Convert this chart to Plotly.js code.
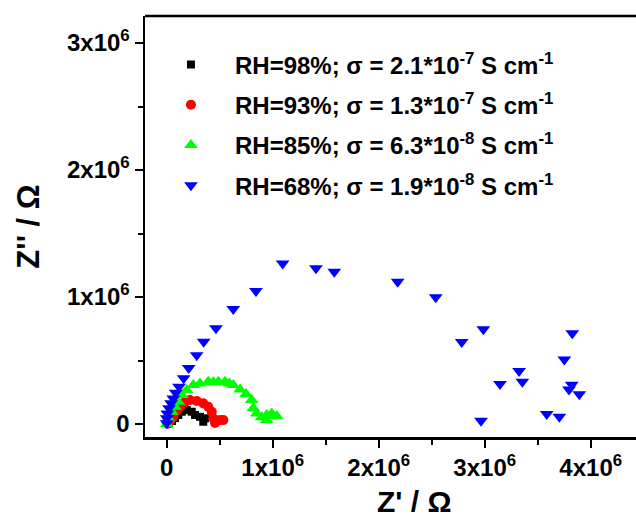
<!DOCTYPE html>
<html>
<head>
<meta charset="utf-8">
<script src="https://cdn.plot.ly/plotly-3.0.1.min.js"></script>
<style>html,body{margin:0;padding:0;background:#fff;overflow:hidden;}</style>
</head>
<body>
<div id="chart" style="width:636px;height:520px;"></div>
<script>
// Data (Z' in Ohm, Z'' in Ohm)
const rh98_x = [0.02e6, 0.05e6, 0.078e6, 0.109e6, 0.142e6, 0.189e6, 0.236e6, 0.267e6, 0.314e6, 0.361e6, 0.345e6];
const rh98_y = [0.005e6, 0.024e6, 0.047e6, 0.071e6, 0.097e6, 0.110e6, 0.097e6, 0.071e6, 0.057e6, 0.045e6, 0.018e6];

const rh93_x = [0.01e6, 0.031e6, 0.062e6, 0.094e6, 0.125e6, 0.173e6, 0.220e6, 0.283e6, 0.345e6, 0.392e6, 0.425e6, 0.440e6, 0.456e6, 0.503e6, 0.534e6];
const rh93_y = [0.002e6, 0.024e6, 0.057e6, 0.102e6, 0.136e6, 0.173e6, 0.189e6, 0.181e6, 0.163e6, 0.136e6, 0.097e6, 0.045e6, 0.008e6, 0.031e6, 0.031e6];

const rh85_x = [0.0, 0.015e6, 0.047e6, 0.078e6, 0.109e6, 0.142e6, 0.189e6, 0.251e6, 0.314e6, 0.392e6, 0.440e6, 0.487e6, 0.550e6, 0.590e6, 0.628e6, 0.692e6, 0.748e6, 0.802e6, 0.817e6, 0.849e6, 0.896e6, 0.943e6, 0.991e6, 1.038e6, 0.943e6];
const rh85_y = [0.0, 0.045e6, 0.097e6, 0.136e6, 0.176e6, 0.228e6, 0.268e6, 0.307e6, 0.320e6, 0.333e6, 0.330e6, 0.333e6, 0.333e6, 0.320e6, 0.307e6, 0.273e6, 0.236e6, 0.189e6, 0.124e6, 0.084e6, 0.053e6, 0.071e6, 0.084e6, 0.063e6, 0.031e6];

const rh68_x = [0.0, 0.0, 0.006e6, 0.022e6, 0.041e6, 0.062e6, 0.085e6, 0.116e6, 0.160e6, 0.208e6, 0.283e6, 0.349e6, 0.465e6, 0.628e6, 0.842e6, 1.094e6, 1.408e6, 1.581e6, 2.179e6, 2.538e6, 2.783e6, 2.987e6, 3.144e6, 3.324e6, 3.355e6, 2.965e6, 3.585e6, 3.704e6, 3.751e6, 3.795e6, 3.821e6, 3.826e6, 3.892e6];
const rh68_y = [0.006e6, 0.045e6, 0.084e6, 0.124e6, 0.163e6, 0.202e6, 0.246e6, 0.294e6, 0.360e6, 0.441e6, 0.541e6, 0.648e6, 0.754e6, 0.906e6, 1.047e6, 1.265e6, 1.226e6, 1.199e6, 1.120e6, 0.998e6, 0.646e6, 0.746e6, 0.315e6, 0.417e6, 0.333e6, 0.026e6, 0.079e6, 0.057e6, 0.509e6, 0.273e6, 0.309e6, 0.714e6, 0.234e6];

const seriesNames = [
  "RH=98%; σ = 2.1*10<sup>-7</sup> S cm<sup>-1</sup>",
  "RH=93%; σ = 1.3*10<sup>-7</sup> S cm<sup>-1</sup>",
  "RH=85%; σ = 6.3*10<sup>-8</sup> S cm<sup>-1</sup>",
  "RH=68%; σ = 1.9*10<sup>-8</sup> S cm<sup>-1</sup>"
];

const xTickVals = [0, 1e6, 2e6, 3e6, 4e6];
const xTickText = ["0", "1x10<sup>6</sup>", "2x10<sup>6</sup>", "3x10<sup>6</sup>", "4x10<sup>6</sup>"];
const yTickVals = [0, 1e6, 2e6, 3e6];
const yTickText = ["0", "1x10<sup>6</sup>", "2x10<sup>6</sup>", "3x10<sup>6</sup>"];
const xTitle = "Z' / Ω";
const yTitle = "Z'' / Ω";

const FONT = "Liberation Sans, Arial, sans-serif";

function tr(x, y, name, color, symbol, size, grp) {
  return {x: x, y: y, name: name, type: 'scatter', mode: 'markers', legendgroup: grp,
    marker: {color: color, symbol: symbol, size: size, line: {width: 0}}};
}

const data = [
  tr(rh98_x, rh98_y, seriesNames[0], '#000000', 'square', 8, 'a'),
  tr(rh93_x, rh93_y, seriesNames[1], '#ff0000', 'circle', 10, 'b'),
  tr(rh85_x, rh85_y, seriesNames[2], '#00ff00', 'triangle-up', 12, 'c'),
  tr(rh68_x, rh68_y, seriesNames[3], '#0000ff', 'triangle-down', 12, 'd')
];

const axisCommon = {
  showgrid: false, zeroline: false, showline: true, linecolor: '#000', linewidth: 2.5,
  ticks: 'outside', ticklen: 8, tickwidth: 2, tickcolor: '#000',
  tickfont: {family: FONT, size: 24, color: '#000', weight: 'bold'},
  tickmode: 'array',
  minor: {ticks: 'outside', ticklen: 5, tickwidth: 2, tickcolor: '#000', dtick: 5e5, showgrid: false}
};

const layout = {
  width: 636, height: 520,
  margin: {l: 145, r: 0, t: 16, b: 83},
  paper_bgcolor: '#fff', plot_bgcolor: '#fff',
  showlegend: true,
  legend: {x: 0.004, xanchor: 'left', y: 0.937, yanchor: 'top', bgcolor: 'rgba(0,0,0,0)',
    tracegroupgap: 6, itemwidth: 78,
    font: {family: FONT, size: 24, color: '#000', weight: 'bold'}},
  xaxis: Object.assign({}, axisCommon, {
    range: [-0.2047e6, 4.427e6], tickvals: xTickVals, ticktext: xTickText
  }),
  yaxis: Object.assign({}, axisCommon, {
    range: [-0.102e6, 3.213e6], tickvals: yTickVals, ticktext: yTickText,
    title: {text: yTitle, font: {family: FONT, size: 31, color: '#000', weight: 'bold'}, standoff: 18}
  }),
  annotations: [{text: xTitle, xref: 'paper', yref: 'paper', x: (414 - 145) / 491, y: 0,
    xanchor: 'center', yanchor: 'middle', yshift: -64, showarrow: false,
    font: {family: FONT, size: 30, color: '#000', weight: 'bold'}}],
  shapes: [{type: 'line', xref: 'paper', yref: 'paper', x0: 0, x1: 1, y0: 1, y1: 1,
    line: {color: '#000', width: 2.5}}]
};

Plotly.newPlot('chart', data, layout, {displayModeBar: false, staticPlot: true});
</script>
</body>
</html>
